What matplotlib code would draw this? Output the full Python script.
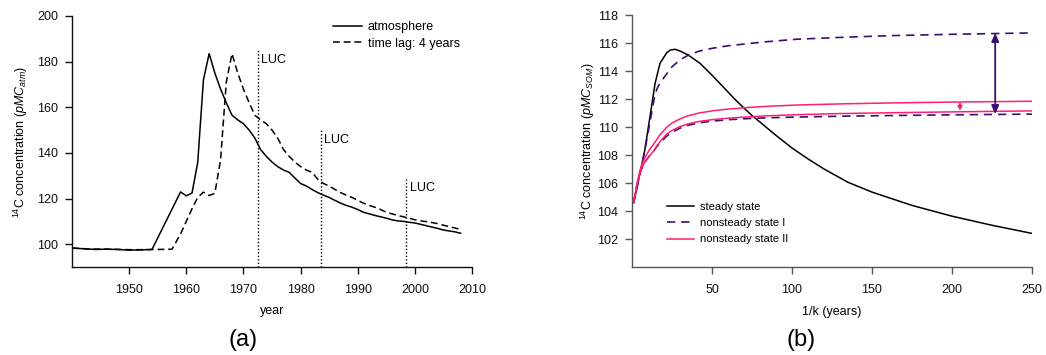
import matplotlib
matplotlib.use("Agg")
import matplotlib.pyplot as plt

plt.rcParams['font.family'] = ['Liberation Sans', 'DejaVu Sans']
plt.rcParams['mathtext.fontset'] = 'custom'
plt.rcParams['mathtext.rm'] = 'Liberation Sans'
plt.rcParams['mathtext.it'] = 'Liberation Sans:italic'

# ---------------- (a) atmospheric 14C ----------------
atm_year = [1940, 1942, 1944, 1946, 1948, 1950, 1952, 1954, 1959, 1960, 1961, 1962, 1963, 1964,
            1965, 1966, 1967, 1968, 1969, 1970, 1971, 1972, 1973, 1974, 1975, 1976, 1977, 1978,
            1979, 1980, 1981, 1982, 1983, 1984, 1985, 1986, 1987, 1988, 1989, 1990, 1991, 1992,
            1993, 1994, 1995, 1996, 1997, 1998, 1999, 2000, 2001, 2002, 2003, 2004, 2005, 2006,
            2007, 2008]
atm_val = [98.3, 98.0, 97.7, 97.8, 97.7, 97.4, 97.5, 97.7, 122.9, 121.2, 122.4, 135.8, 172.0, 183.5,
           175.0, 168.0, 162.0, 156.5, 154.5, 152.8, 150.0, 146.5, 141.5, 138.5, 136.0, 134.0, 132.5,
           131.5, 129.0, 126.6, 125.5, 124.0, 122.6, 121.5, 120.5, 119.2, 118.0, 117.0, 116.2, 115.2,
           114.0, 113.3, 112.6, 112.0, 111.4, 110.7, 110.2, 110.0, 109.6, 109.3, 108.7, 108.1, 107.5,
           106.9, 106.2, 105.8, 105.4, 104.8]

lag_year = [1940, 1943, 1946, 1950, 1953, 1957.5, 1959, 1960, 1961, 1962, 1963, 1964, 1965, 1966,
            1967, 1968, 1969, 1970, 1971, 1972, 1973, 1974, 1975, 1976, 1977, 1978, 1979, 1980,
            1981, 1982, 1983, 1984, 1985, 1986, 1987, 1988, 1989, 1990, 1991, 1992, 1993, 1994,
            1995, 1996, 1997, 1998, 1999, 2000, 2001, 2002, 2003, 2004, 2005, 2006, 2007, 2008]
lag_val = [98.3, 97.9, 97.8, 97.6, 97.6, 97.8, 104.5, 110.0, 115.5, 120.5, 122.8, 121.3, 122.3, 137.0,
           171.0, 183.5, 175.0, 168.0, 162.0, 156.5, 154.5, 152.8, 150.0, 146.5, 141.5, 138.5, 136.0,
           134.0, 132.5, 131.5, 128.5, 126.6, 125.5, 124.0, 122.6, 121.5, 120.5, 119.2, 118.0, 117.0,
           116.2, 115.2, 114.0, 113.3, 112.6, 112.0, 111.4, 110.7, 110.2, 109.9, 109.5, 109.0, 108.3,
           107.7, 107.1, 106.4]

luc_year = [1972.5, 1983.5, 1998.5]
luc_top = [185, 150, 128.5]
luc_text_y = [180.8, 145.6, 124.6]

# ---------------- (b) soil organic matter 14C ----------------
k_steady = [1, 3, 5, 8, 11.25, 14.4, 17.5, 21.7, 24, 27, 30, 35, 42.5, 50, 55, 60, 65, 70, 75, 80,
            90, 100, 110, 120, 135, 150, 175, 200, 225, 250]
steady = [104.6, 105.6, 106.7, 108.35, 110.75, 113.1, 114.55, 115.3, 115.5, 115.55, 115.43, 115.15,
          114.55, 113.7, 113.1, 112.5, 111.9, 111.35, 110.82, 110.35, 109.4, 108.5, 107.72, 107.0,
          106.05, 105.35, 104.4, 103.63, 102.98, 102.4]

k_ns = [1, 3, 5, 6.5, 8, 11, 14, 15.5, 17.5, 21.7, 25, 30, 35, 42, 50, 60, 72, 85, 103, 130, 163, 200, 250]
ns1_high = [104.6, 105.6, 106.7, 107.5, 108.3, 110.2, 112.1, 112.7, 113.15, 113.8, 114.3, 114.8, 115.12,
            115.42, 115.62, 115.8, 115.95, 116.1, 116.27, 116.4, 116.53, 116.62, 116.72]
ns1_low = [104.6, 105.8, 106.7, 107.15, 107.5, 107.95, 108.35, 108.6, 108.85, 109.35, 109.62, 109.92,
           110.12, 110.3, 110.42, 110.52, 110.6, 110.66, 110.71, 110.77, 110.82, 110.87, 110.92]
ns2_high = [104.6, 105.9, 106.9, 107.4, 107.8, 108.4, 108.85, 109.1, 109.45, 109.98, 110.28, 110.58,
            110.8, 111.0, 111.15, 111.28, 111.39, 111.48, 111.57, 111.65, 111.72, 111.78, 111.84]
ns2_low = [104.6, 105.8, 106.7, 107.15, 107.5, 107.95, 108.35, 108.65, 108.95, 109.5, 109.75, 110.03,
           110.22, 110.4, 110.52, 110.63, 110.72, 110.8, 110.88, 110.96, 111.02, 111.08, 111.15]

purple = '#3b0f70'
pink = '#ff1f70'

fig = plt.figure(figsize=(10.46, 3.55), dpi=100)
ax1 = fig.add_axes([72 / 1046, 1 - 267 / 355, 400 / 1046, 251 / 355])
ax2 = fig.add_axes([632 / 1046, 1 - 267 / 355, 400 / 1046, 252 / 355])

for ax, spc in ((ax1, '#111111'), (ax2, '#555555')):
    ax.spines['top'].set_visible(False)
    ax.spines['right'].set_visible(False)
    for s in ('left', 'bottom'):
        ax.spines[s].set_color(spc)
        ax.spines[s].set_linewidth(1.0)
    ax.tick_params(direction='out', length=5, width=1.0, pad=5, labelsize=9,
                   color=spc, labelcolor='#111111')
    ax.tick_params(axis='x', pad=7.5)

# panel a
ax1.plot(atm_year, atm_val, color='black', lw=1.1, label='atmosphere')
ax1.plot(lag_year, lag_val, color='black', lw=1.1, dashes=(4.5, 2.5), label='time lag: 4 years')
for xv, top, ty in zip(luc_year, luc_top, luc_text_y):
    ax1.plot([xv, xv], [90, top], color='black', lw=1.0, ls=(0, (1, 1.5)))
    ax1.text(xv + 0.6, ty, 'LUC', fontsize=9, va='center', ha='left')
ax1.set_xlim(1940, 2010)
ax1.set_ylim(90, 200)
ax1.set_xticks([1950, 1960, 1970, 1980, 1990, 2000, 2010])
ax1.set_yticks([100, 120, 140, 160, 180, 200])
ax1.set_xlabel('year', fontsize=9)
ax1.set_ylabel(r'$^{14}$C concentration ($pMC_{atm}$)', fontsize=9)
ax1.xaxis.set_label_coords(0.5, -0.15)
ax1.yaxis.set_label_coords(-0.105, 0.5)
ax1.legend(loc='upper left', bbox_to_anchor=(0.6525, 0.98), frameon=False, fontsize=9,
           borderpad=0, borderaxespad=0, handlelength=2.3, handletextpad=0.5, labelspacing=0.38)

# panel b
ax2.plot(k_steady, steady, color='black', lw=1.1, label='steady state')
ax2.plot(k_ns, ns1_high, color=purple, lw=1.2, dashes=(5, 3.5), label='nonsteady state I')
ax2.plot(k_ns, ns1_low, color=purple, lw=1.2, dashes=(5, 3.5))
ax2.plot(k_ns, ns2_high, color=pink, lw=1.1, label='nonsteady state II')
ax2.plot(k_ns, ns2_low, color=pink, lw=1.1)
ax2.annotate('', xy=(227, ns1_high[-1]), xytext=(227, ns1_low[-1]),
             arrowprops=dict(arrowstyle='<|-|>,head_length=0.5,head_width=0.22', color=purple, lw=1.3,
                             shrinkA=0, shrinkB=0))
ax2.annotate('', xy=(205, ns2_high[-1] - 0.04), xytext=(205, ns2_low[-1] + 0.02),
             arrowprops=dict(arrowstyle='<|-|>,head_length=0.25,head_width=0.12', color=pink, lw=1.0,
                             shrinkA=0, shrinkB=0))
ax2.set_xlim(0, 250)
ax2.set_ylim(100, 118)
ax2.set_xticks([50, 100, 150, 200, 250])
ax2.set_yticks(range(102, 119, 2))
ax2.set_xlabel('1/k (years)', fontsize=9)
ax2.set_ylabel(r'$^{14}$C concentration ($pMC_{SOM}$)', fontsize=9)
ax2.xaxis.set_label_coords(0.5, -0.155)
ax2.yaxis.set_label_coords(-0.088, 0.5)
ax2.legend(loc='upper left', bbox_to_anchor=(0.0875, 0.257), frameon=False, fontsize=8,
           borderpad=0, borderaxespad=0, handlelength=2.4, handletextpad=0.6, labelspacing=0.55)

fig.text(243 / 1046, 1 - 340 / 355, '(a)', fontsize=17, ha='center', va='center')
fig.text(801 / 1046, 1 - 340 / 355, '(b)', fontsize=17, ha='center', va='center')

fig.savefig('out.png', dpi=100)
